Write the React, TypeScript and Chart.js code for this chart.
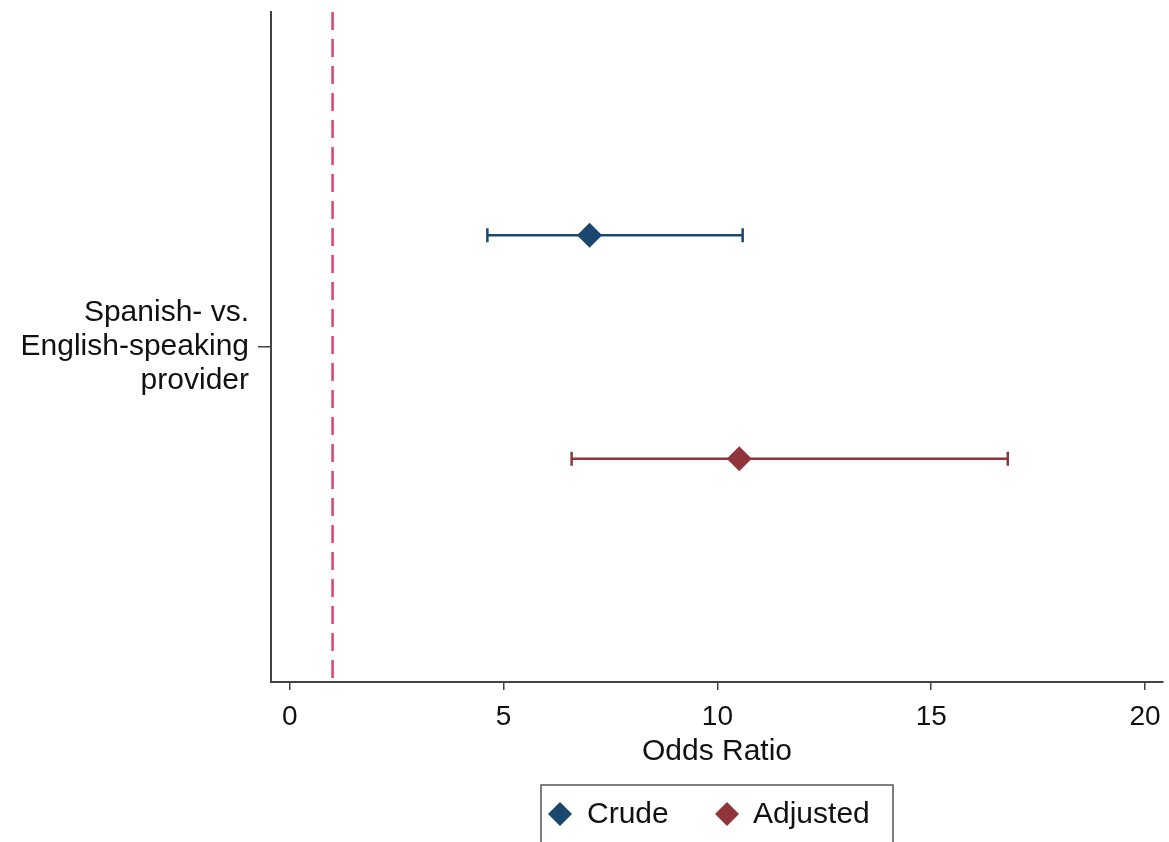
import React, { useEffect, useRef } from "react";
import { Chart, registerables } from "chart.js";

Chart.register(...registerables);

// ---- Data ----
const categoryLines = ["Spanish- vs.", "English-speaking", "provider"];
const categoryPosition = 3;
const seriesNames = ["Crude", "Adjusted"];
const seriesColors = ["#1a476f", "#90353b"];
const estimates = [7.01, 10.51];
const lowerCI = [4.62, 6.59];
const upperCI = [10.59, 16.79];
const rowPositions = [4, 2];
const xTickValues = [0, 5, 10, 15, 20];
const referenceValue = 1;
const xTitle = "Odds Ratio";

const FONT = "'Liberation Sans', Arial, Helvetica, sans-serif";

const errorBarPlugin = {
  id: "errorBars",
  beforeDatasetsDraw(chart: any) {
    const { ctx, chartArea, scales } = chart;
    const xs = scales.x;
    const rx = xs.getPixelForValue(referenceValue);
    ctx.save();
    ctx.strokeStyle = "#d9456c";
    ctx.lineWidth = 2.5;
    ctx.setLineDash([18, 9]);
    ctx.beginPath();
    ctx.moveTo(rx, chartArea.top);
    ctx.lineTo(rx, chartArea.bottom);
    ctx.stroke();
    ctx.restore();

    chart.data.datasets.forEach((ds: any, i: number) => {
      const meta = chart.getDatasetMeta(i);
      ds.data.forEach((d: any, j: number) => {
        const el = meta.data[j];
        if (!el) return;
        const y = el.y;
        const x1 = xs.getPixelForValue(d.lo);
        const x2 = xs.getPixelForValue(d.hi);
        ctx.save();
        ctx.strokeStyle = ds.backgroundColor;
        ctx.lineWidth = 2.5;
        ctx.beginPath();
        ctx.moveTo(x1, y);
        ctx.lineTo(x2, y);
        ctx.moveTo(x1, y - 7);
        ctx.lineTo(x1, y + 7);
        ctx.moveTo(x2, y - 7);
        ctx.lineTo(x2, y + 7);
        ctx.stroke();
        ctx.restore();
      });
    });
  },
};

const legendPlugin = {
  id: "customLegend",
  afterDraw(chart: any) {
    const { ctx, chartArea } = chart;
    const cx = (chartArea.left + chartArea.right) / 2;
    const left = cx - 176;
    const right = cx + 176;
    const top = 785;
    const cy = 814;
    ctx.save();
    ctx.strokeStyle = "#555";
    ctx.lineWidth = 1.5;
    ctx.strokeRect(left, top, right - left, 80);
    const offsets = [[19, 46], [186, 212]];
    ctx.font = `30px ${FONT}`;
    ctx.textBaseline = "middle";
    ctx.textAlign = "left";
    seriesNames.forEach((name, i) => {
      const dx = left + offsets[i][0];
      const r = 12;
      ctx.fillStyle = seriesColors[i];
      ctx.beginPath();
      ctx.moveTo(dx, cy - r);
      ctx.lineTo(dx + r, cy);
      ctx.lineTo(dx, cy + r);
      ctx.lineTo(dx - r, cy);
      ctx.closePath();
      ctx.fill();
      ctx.fillStyle = "#111";
      ctx.fillText(name, left + offsets[i][1], cy + 1);
    });
    ctx.restore();
  },
};

export default function App() {
  const ref = useRef<HTMLCanvasElement>(null);
  useEffect(() => {
    if (!ref.current) return;
    const chart = new Chart(ref.current, {
      type: "scatter",
      data: {
        datasets: seriesNames.map((name, i) => ({
          label: name,
          data: [{ x: estimates[i], y: rowPositions[i], lo: lowerCI[i], hi: upperCI[i] }],
          backgroundColor: seriesColors[i],
          borderColor: seriesColors[i],
          borderWidth: 0,
          pointStyle: "rectRot",
          pointRadius: 12.5,
          pointHoverRadius: 12.5,
        })),
      },
      options: {
        animation: false,
        responsive: false,
        layout: { autoPadding: false, padding: { top: 12, right: 6, left: 0, bottom: 0 } },
        plugins: { legend: { display: false }, tooltip: { enabled: false } },
        scales: {
          x: {
            type: "linear",
            min: -0.44,
            max: 20.42,
            afterBuildTicks: (s: any) => {
              s.ticks = xTickValues.map((v) => ({ value: v }));
            },
            afterFit: (s: any) => {
              s.height = 160;
              s.paddingLeft = 0;
              s.paddingRight = 0;
            },
            grid: { drawOnChartArea: false, drawTicks: true, tickLength: 8, color: "#444", lineWidth: 1.5 },
            border: { color: "#444", width: 2 },
            ticks: { font: { size: 28, family: FONT }, color: "#111", padding: 10, autoSkip: false, maxRotation: 0 },
            title: {
              display: true,
              text: xTitle,
              font: { size: 30, family: FONT },
              color: "#111",
              padding: { top: 0, bottom: 72 },
            },
          },
          y: {
            type: "linear",
            min: 0,
            max: 6,
            afterBuildTicks: (s: any) => {
              s.ticks = [{ value: categoryPosition }];
            },
            afterFit: (s: any) => {
              s.width = 271;
              s.paddingTop = 0;
              s.paddingBottom = 0;
            },
            grid: { drawOnChartArea: false, drawTicks: true, tickLength: 13, color: "#444", lineWidth: 1.5 },
            border: { color: "#444", width: 2 },
            ticks: {
              font: { size: 30, family: FONT, lineHeight: 1.13 },
              color: "#111",
              padding: 9,
              callback: () => categoryLines,
            },
          },
        },
      },
      plugins: [errorBarPlugin, legendPlugin],
    } as any);
    return () => chart.destroy();
  }, []);
  return (
    <div style={{ position: "absolute", left: 0, top: 0, width: 1169, height: 842, background: "#fff" }}>
      <canvas ref={ref} width={1169} height={842} />
    </div>
  );
}
